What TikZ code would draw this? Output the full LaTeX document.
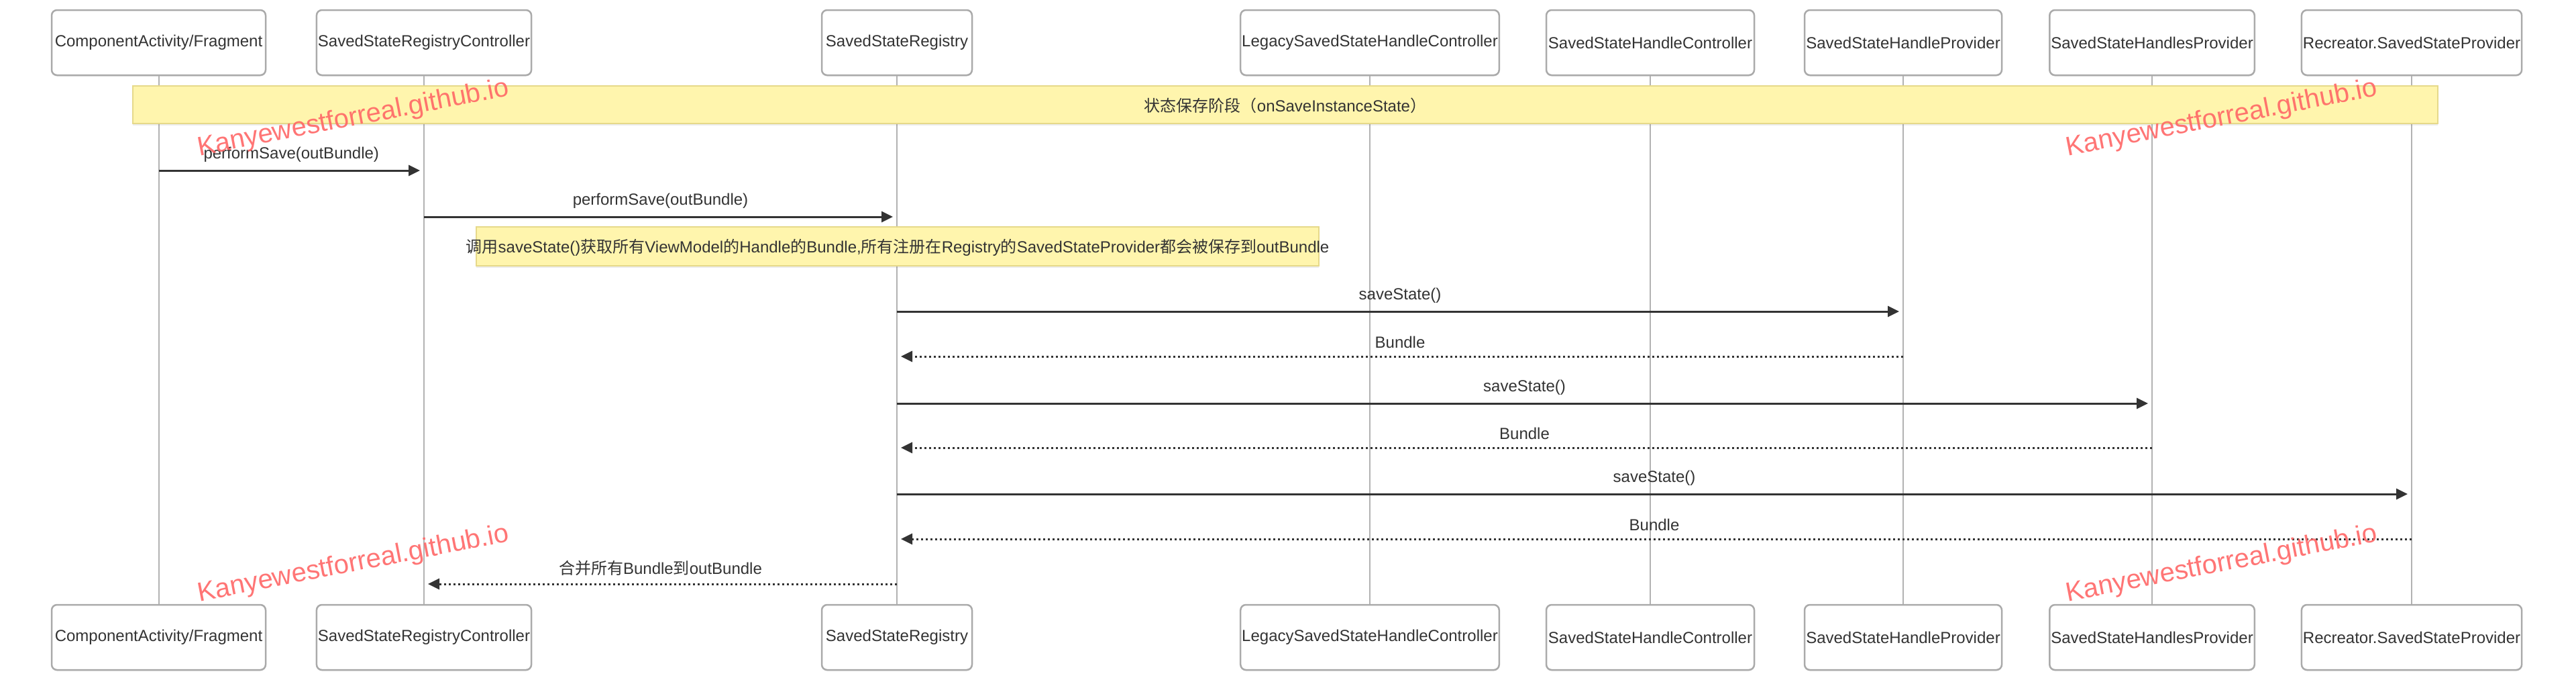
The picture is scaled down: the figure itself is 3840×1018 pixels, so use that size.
\documentclass[tikz,border=0pt]{standalone}
\usepackage{fontspec}
\setmainfont{Liberation Sans}
\newfontfamily\cjk{Noto Sans CJK SC}
\usetikzlibrary{arrows.meta,positioning,shadows}

\definecolor{ink}{RGB}{51,51,51}
\definecolor{lifegray}{RGB}{178,178,178}
\definecolor{boxgray}{RGB}{170,170,170}
\definecolor{notefill}{RGB}{255,245,173}
\definecolor{noteline}{RGB}{230,217,138}
\definecolor{stamp}{RGB}{255,102,102}

\newcommand{\zh}[1]{{\cjk #1}}

\tikzset{
  actor/.style={draw=boxgray, line width=2.5pt, fill=white, rounded corners=8pt,
    minimum height=97pt, inner sep=2pt, text=ink,
    drop shadow={shadow xshift=0pt, shadow yshift=-2pt, opacity=0.12}},
  life/.style={draw=lifegray, line width=2pt},
  call/.style={draw=ink, line width=3pt, -{Triangle[length=17pt,width=16pt]}, shorten >=6pt},
  reply/.style={call, dash pattern=on 3.5pt off 3.5pt},
  msg/.style={midway, above=11pt, inner sep=0pt, text=ink},
  notebox/.style={draw=noteline, fill=notefill, line width=2.5pt,
    drop shadow={shadow xshift=0pt, shadow yshift=-3pt, opacity=0.15}},
  stampmark/.style={text=stamp, opacity=0.9, rotate=11, font=\fontsize{40pt}{48pt}\selectfont}
}

\begin{document}
\begin{tikzpicture}[x=1pt,y=-1pt,font=\fontsize{24pt}{29pt}\selectfont]
\useasboundingbox (0,0) rectangle (3840,1018);
\fill[white] (0,0) rectangle (3840,1018);

% participants, top row
\node[actor, minimum width=319pt] (caTop) at (236.5,63.5) {ComponentActivity/Fragment};
\node[actor, minimum width=316pt] (srcTop) at (632,63.5) {SavedStateRegistryController};
\node[actor, minimum width=224pt] (regTop) at (1337,63.5) {SavedStateRegistry};
\node[actor, minimum width=380pt] (legacyTop) at (2042,63.5) {LegacySavedStateHandleController};
\node[actor, minimum width=310pt] (shcTop) at (2460,63.5) {SavedStateHandleController};
\node[actor, minimum width=294pt] (shpTop) at (2837,63.5) {SavedStateHandleProvider};
\node[actor, minimum width=302pt] (shspTop) at (3208,63.5) {SavedStateHandlesProvider};
\node[actor, minimum width=321pt] (recTop) at (3595,63.5) {Recreator.SavedStateProvider};

% participants, bottom row
\node[actor, minimum width=319pt] (caBot) at (236.5,949.5) {ComponentActivity/Fragment};
\node[actor, minimum width=316pt] (srcBot) at (632,949.5) {SavedStateRegistryController};
\node[actor, minimum width=224pt] (regBot) at (1337,949.5) {SavedStateRegistry};
\node[actor, minimum width=380pt] (legacyBot) at (2042,949.5) {LegacySavedStateHandleController};
\node[actor, minimum width=310pt] (shcBot) at (2460,949.5) {SavedStateHandleController};
\node[actor, minimum width=294pt] (shpBot) at (2837,949.5) {SavedStateHandleProvider};
\node[actor, minimum width=302pt] (shspBot) at (3208,949.5) {SavedStateHandlesProvider};
\node[actor, minimum width=321pt] (recBot) at (3595,949.5) {Recreator.SavedStateProvider};

% lifelines
\draw[life] (caTop) -- (caBot);
\draw[life] (srcTop) -- (srcBot);
\draw[life] (regTop) -- (regBot);
\draw[life] (legacyTop) -- (legacyBot);
\draw[life] (shcTop) -- (shcBot);
\draw[life] (shpTop) -- (shpBot);
\draw[life] (shspTop) -- (shspBot);
\draw[life] (recTop) -- (recBot);

% phase band
\draw[notebox] (198,128) rectangle (3634,184);
\node[text=ink] (phase) at (1916,157) {\zh{状态保存阶段（}onSaveInstanceState\zh{）}};

\draw[call] (caTop |- 0,254) -- (srcTop |- 0,254) node[msg] {performSave(outBundle)};
\draw[call] (srcTop |- 0,323) -- (regTop |- 0,323) node[msg] {performSave(outBundle)};

\draw[notebox] (710,338) rectangle (1966,396);
\node[text=ink] (hint) at (1338,369) {\zh{调用}saveState()\zh{获取所有}ViewModel\zh{的}Handle\zh{的}Bundle,\zh{所有注册在}Registry\zh{的}SavedStateProvider\zh{都会被保存到}outBundle};

\draw[call] (regTop |- 0,464) -- (shpTop |- 0,464) node[msg] {saveState()};
\draw[reply] (shpTop |- 0,531) -- (regTop |- 0,531) node[msg] {Bundle};
\draw[call] (regTop |- 0,601) -- (shspTop |- 0,601) node[msg] {saveState()};
\draw[reply] (shspTop |- 0,667) -- (regTop |- 0,667) node[msg] {Bundle};
\draw[call] (regTop |- 0,736) -- (recTop |- 0,736) node[msg] {saveState()};
\draw[reply] (recTop |- 0,803) -- (regTop |- 0,803) node[msg] {Bundle};
\draw[reply] (regTop |- 0,870) -- (srcTop |- 0,870) node[msg] {\zh{合并所有}Bundle\zh{到}outBundle};

% watermarks
\node[stampmark] (wmA) at (527,177) {Kanyewestforreal.github.io};
\node[stampmark] (wmB) at (3312,177) {Kanyewestforreal.github.io};
\node[stampmark] (wmC) at (527,841) {Kanyewestforreal.github.io};
\node[stampmark] (wmD) at (3312,841) {Kanyewestforreal.github.io};
\end{tikzpicture}
\end{document}
